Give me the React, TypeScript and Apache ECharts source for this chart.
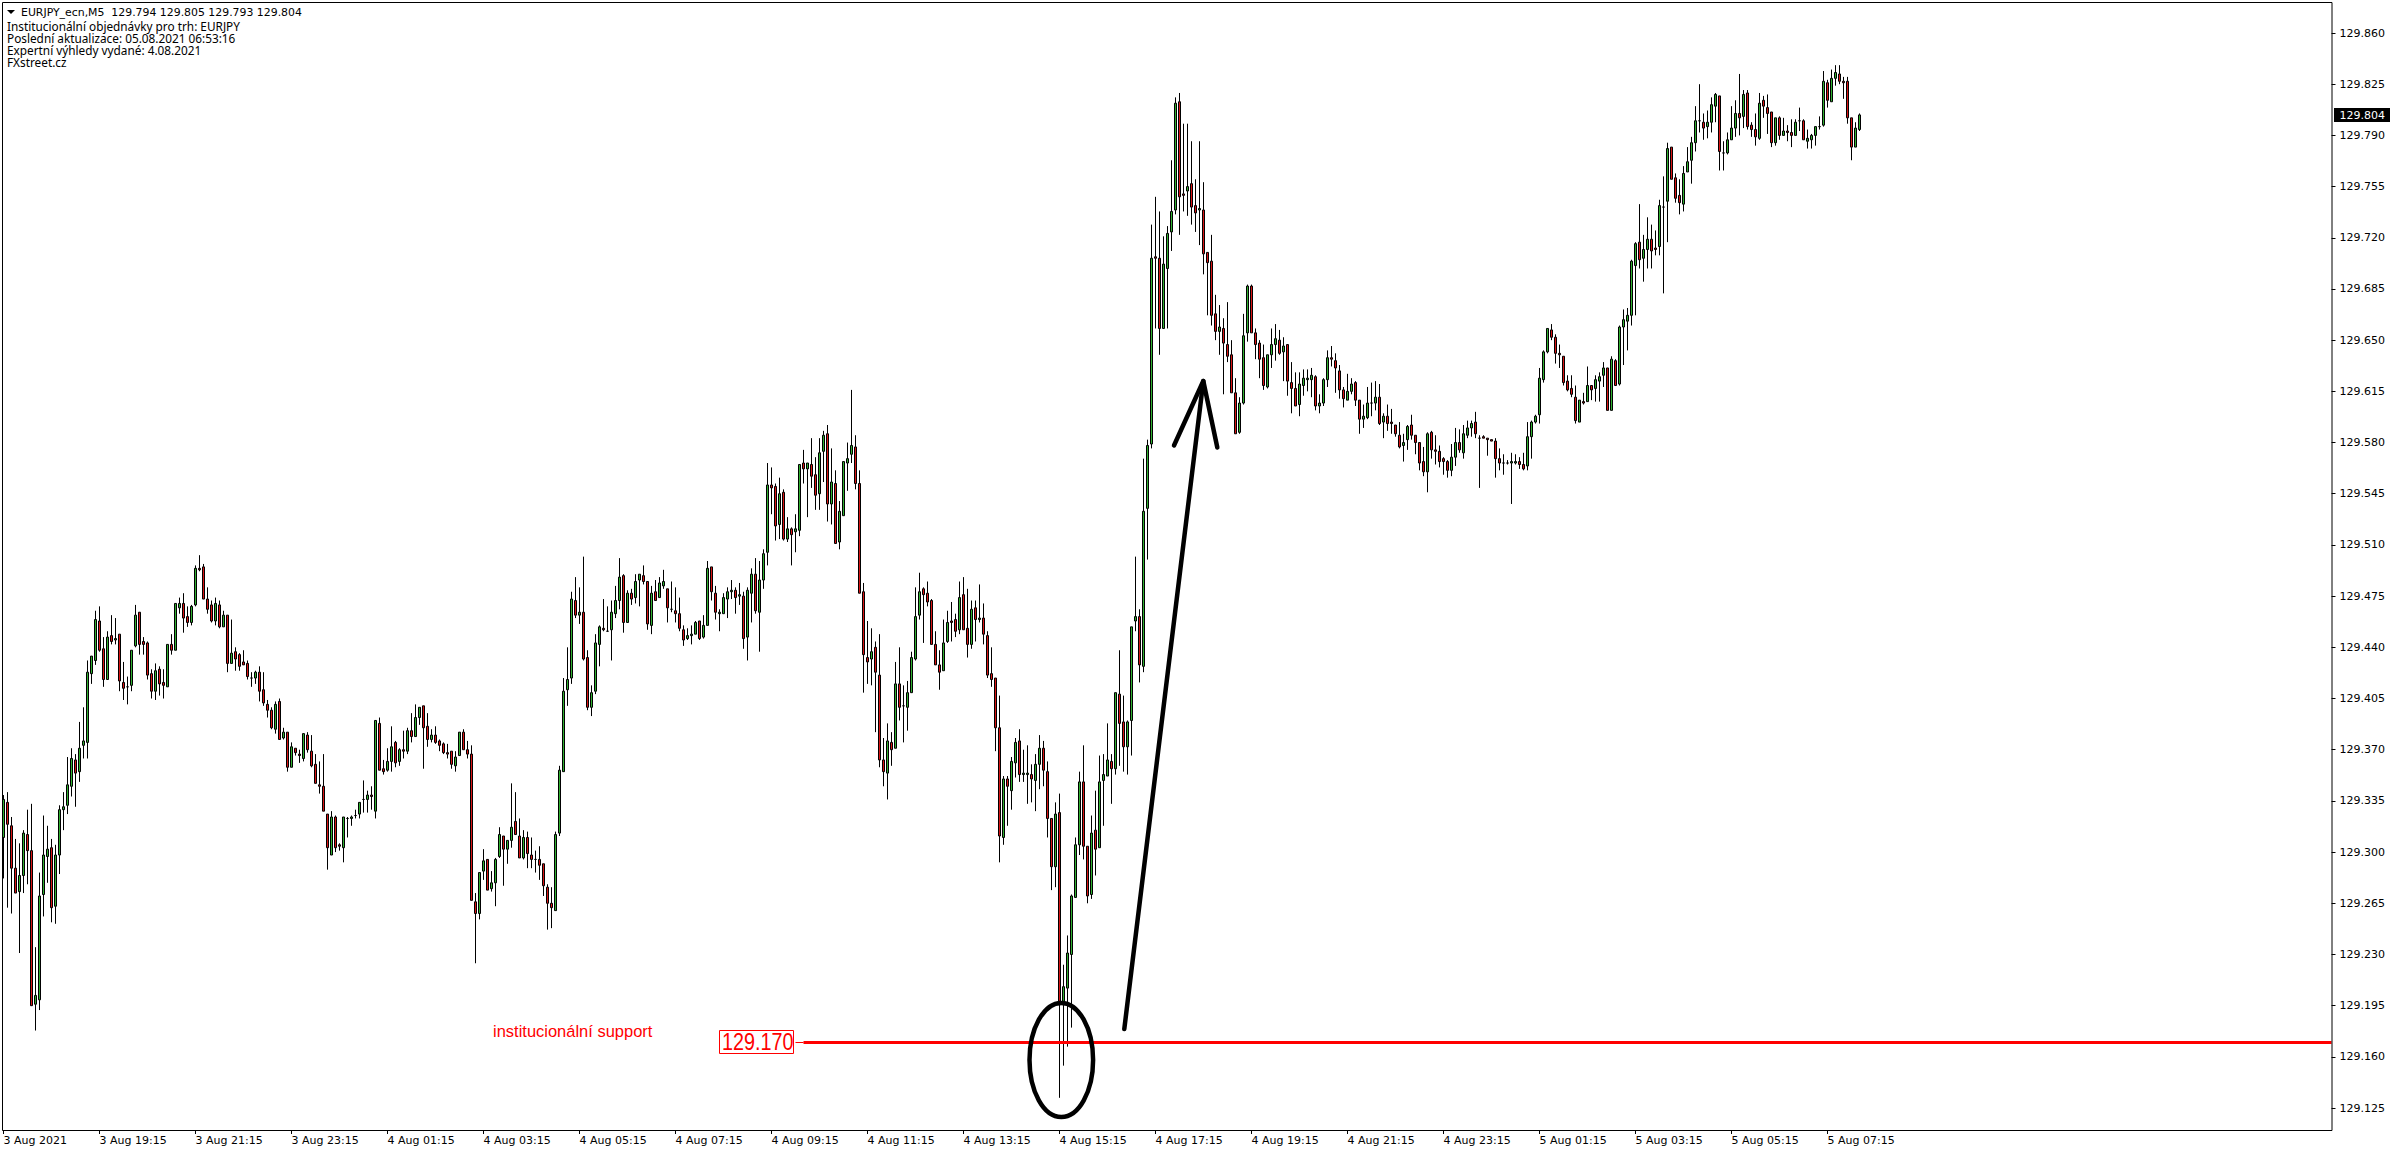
import React, { useEffect, useRef } from "react";
import * as echarts from "echarts";

// Prices are stored as thousandths of a yen above 129 (339 = 129.339).
const PRICE_BASE = 129;

const highs = [
  339,341,324,309,306,315,329,333,235,286,325,318,309,305,332,341,365,371,367,389,399,431,434,465,468,
  447,451,462,460,449,430,420,438,469,464,447,444,425,429,427,425,442,449,470,474,477,468,469,496,503,
  497,481,472,474,472,465,462,459,440,436,438,431,423,424,427,423,404,399,403,405,385,382,375,371,370,
  381,382,380,367,362,367,326,328,325,306,324,324,325,329,334,349,342,345,390,392,363,371,386,376,371,
  383,385,395,401,399,400,395,384,386,377,375,374,369,369,382,384,376,373,272,286,302,295,287,296,317,
  311,308,347,341,323,315,314,310,301,304,292,278,276,314,359,419,440,478,488,481,502,438,414,449,455,
  473,468,472,482,501,490,479,480,490,490,496,485,482,486,488,493,480,485,481,474,455,453,455,458,458,
  462,499,495,482,466,477,481,486,481,484,478,481,494,501,499,507,566,563,552,556,548,529,522,531,565,
  575,566,583,570,583,588,592,576,561,540,567,580,616,585,561,484,458,453,444,449,378,388,382,430,440,
  414,417,437,481,491,481,485,473,451,438,459,465,471,463,485,488,480,472,472,483,470,451,440,419,407,
  352,352,365,378,384,370,373,360,367,380,376,362,323,334,340,223,243,271,310,355,373,304,325,342,366,
  367,388,367,409,438,407,390,454,502,466,569,582,729,748,738,721,728,773,816,819,798,798,786,760,786,
  758,710,722,681,674,665,676,650,624,611,668,688,688,658,650,647,640,658,661,657,652,647,635,628,628,
  630,630,631,626,613,624,643,646,641,633,618,627,624,622,609,606,618,621,622,620,600,606,603,592,594,
  586,592,599,585,580,577,587,588,585,578,570,568,579,590,589,592,595,595,601,585,585,583,582,583,576,
  572,568,573,572,570,573,594,595,599,631,643,658,661,654,647,639,626,626,619,609,614,632,619,626,628,
  635,631,639,637,660,671,672,705,717,743,722,734,729,725,746,762,785,782,764,760,769,782,789,810,825,
  805,807,816,819,817,786,792,810,814,832,821,821,799,805,819,817,818,806,802,803,802,797,801,801,809,
  801,794,791,796,803,834,828,835,838,838,830,830,802,799,805,
];

const bodyTops = [
  336,334,318,289,284,313,312,301,202,270,298,302,303,298,329,331,346,364,363,371,376,423,434,459,458,
  439,447,448,446,449,416,413,438,462,464,444,443,422,424,425,416,442,442,470,470,470,461,468,494,494,
  495,473,469,470,469,462,462,436,437,435,430,429,419,423,423,411,401,397,401,403,382,382,372,371,367,
  381,380,369,360,346,345,326,324,324,305,324,323,324,325,334,336,339,339,390,388,357,362,372,375,370,
  370,383,383,392,399,400,386,380,380,376,374,368,369,365,382,382,370,367,266,286,294,295,279,295,312,
  311,308,317,321,311,310,310,298,295,295,292,276,265,312,356,410,418,473,472,464,464,433,409,443,454,
  453,451,464,472,488,489,477,477,485,490,489,485,477,478,484,485,480,466,465,463,452,448,449,457,458,
  455,494,495,477,464,474,478,479,479,476,475,479,490,490,486,504,551,551,550,545,546,521,521,521,565,
  566,566,565,558,573,585,586,553,552,533,567,569,578,577,552,478,433,437,440,421,363,376,375,415,415,
  400,409,433,461,478,480,477,472,442,428,443,457,458,459,474,476,453,466,467,460,460,448,422,419,385,
  350,350,362,375,376,354,354,353,360,371,371,355,323,326,327,208,231,270,305,348,348,304,313,315,348,
  353,363,362,409,408,389,389,454,461,461,533,578,706,707,706,702,723,738,812,813,750,755,757,742,740,
  739,710,704,668,659,658,647,640,614,607,653,687,687,655,648,638,640,647,651,650,646,647,621,617,620,
  624,624,626,625,607,623,638,638,636,629,616,615,620,621,609,598,607,607,611,611,598,598,594,592,585,
  580,591,592,585,580,567,586,587,575,574,569,567,570,580,580,586,590,593,594,583,584,583,582,581,569,
  566,566,567,567,567,565,584,594,598,624,642,658,657,652,641,639,622,617,611,609,608,619,619,623,625,
  631,631,637,636,659,664,667,704,716,717,712,719,719,713,742,741,781,782,761,749,764,772,785,800,800,
  799,799,811,818,817,778,787,795,805,805,818,819,797,794,812,814,809,806,802,802,793,793,792,799,800,
  800,788,790,796,796,827,826,829,833,832,827,827,802,795,804,
];

const bodyBottoms = [
  310,319,289,272,273,284,301,195,196,199,271,297,262,263,298,329,332,345,354,355,373,375,422,431,438,
  418,418,444,445,417,412,413,414,441,442,442,421,410,410,415,414,413,438,438,467,460,457,457,469,493,
  473,466,458,458,454,454,429,429,432,427,428,420,419,419,410,402,397,385,384,377,378,358,358,368,366,
  364,370,359,347,345,328,303,298,303,304,303,323,323,325,326,336,336,338,328,356,355,356,362,361,362,
  369,369,379,379,392,385,377,377,375,373,368,367,360,359,366,370,367,267,258,258,287,274,275,279,297,
  302,302,308,312,296,296,299,295,295,291,277,265,262,260,313,355,411,419,462,462,432,399,399,410,442,
  452,451,452,463,472,457,457,473,474,486,485,456,455,472,474,482,467,466,463,453,445,446,448,449,446,
  447,455,478,464,463,463,473,478,474,475,446,447,477,465,464,486,505,549,523,524,514,514,517,519,520,
  562,562,557,544,545,574,538,538,511,512,530,566,572,552,477,435,430,432,423,363,355,354,370,371,399,
  400,399,409,432,462,476,471,442,428,423,424,444,457,451,452,452,442,442,459,459,449,421,418,385,311,
  310,345,342,361,353,353,353,350,349,360,356,323,290,290,198,198,207,230,269,305,304,270,271,302,303,
  349,352,357,357,388,372,372,390,458,428,427,535,579,706,658,658,699,724,739,748,749,752,741,737,739,
  709,703,667,656,656,648,639,614,586,587,607,655,655,647,637,619,618,640,647,641,642,622,617,605,606,
  619,623,623,605,605,607,623,637,631,616,610,609,615,609,596,596,597,607,607,593,594,593,593,586,577,
  578,582,585,580,566,560,560,575,574,567,567,561,561,570,575,573,585,590,586,583,583,582,581,569,566,
  566,566,566,566,565,562,564,584,594,599,623,642,652,641,640,621,616,613,595,594,607,608,616,617,622,
  626,602,602,619,620,659,663,667,701,705,706,712,711,712,714,741,745,760,747,744,743,765,773,785,800,
  795,796,799,810,779,778,778,787,795,802,803,796,794,789,788,810,805,785,785,790,790,792,790,790,800,
  787,786,787,790,796,797,814,813,829,827,826,802,782,782,794,
];

const lows = [
  282,262,258,272,231,272,278,195,178,192,256,279,252,251,285,315,326,338,331,348,364,364,415,428,437,
  413,418,442,442,410,404,401,410,440,435,435,418,405,404,407,405,413,435,438,463,450,454,455,468,492,
  473,463,457,455,453,454,423,429,424,424,428,418,413,415,403,400,392,384,381,377,377,355,358,366,361,
  362,368,358,347,340,328,288,298,300,301,293,310,318,323,323,327,327,329,323,356,353,355,355,358,359,
  364,367,375,379,387,357,372,375,374,369,367,364,357,355,366,370,364,267,224,254,281,274,273,263,296,
  277,292,303,312,296,295,289,289,286,281,270,247,248,260,311,355,400,415,460,456,431,397,393,408,427,
  451,451,431,460,466,450,457,469,470,468,483,452,449,472,474,480,457,464,457,451,441,445,442,449,445,
  446,455,472,459,451,463,460,473,463,469,439,431,457,463,437,480,496,531,513,514,513,512,496,505,516,
  552,529,549,534,534,553,526,524,511,507,530,547,566,548,477,409,415,414,382,358,345,336,359,371,390,
  375,383,409,431,459,443,468,442,428,411,424,443,444,447,449,452,433,439,444,457,442,419,413,369,293,
  305,318,329,351,348,348,333,334,328,343,345,310,274,276,132,154,167,180,269,298,295,265,268,284,303,
  318,352,333,353,359,355,353,366,451,416,423,500,576,658,640,658,658,711,736,722,738,735,729,724,715,
  695,667,660,650,640,613,635,614,586,586,606,649,655,637,624,616,617,631,636,640,622,612,600,605,598,
  612,615,611,602,600,605,618,632,614,610,604,609,613,605,586,590,596,598,602,592,583,588,586,584,576,
  567,575,582,572,561,557,546,569,565,563,558,556,557,564,573,569,583,584,583,549,583,571,581,556,561,
  558,565,538,565,562,561,561,569,593,593,621,641,650,634,631,619,615,611,593,594,606,608,609,608,608,
  618,602,602,619,619,633,643,660,667,699,690,699,699,708,708,682,717,760,744,736,738,765,757,779,792,
  787,788,792,799,766,766,777,787,789,790,795,794,789,783,787,802,791,782,783,787,790,786,782,790,793,
  787,781,781,783,794,796,809,813,824,825,815,798,773,782,793,
];

// G = bull candle (close at the body top), R = bear candle (close at the body bottom).
const directions = [
  "GRRRGGRRGGGGRGGGGGRGGGGGR",
  "RGRGRRGGGRRRRGRRGRGGRRGGR",
  "RRRGRGRGRRRRGGRRRRGRGRGRR",
  "GRRRRRRGRRGGGGGGGRGRRGGRG",
  "RGRGGRRGRRRRRGGRRRRGGRGGG",
  "RGGRRGRRGRRRRGGGGGRGRRGGG",
  "RGGGGRGRGGRRGRGGRGRRRGGGR",
  "GGRRGGGGRGRGGRGGGRRGRGRGG",
  "RGRRGGRGRGGGGRRRRGRRRGRGR",
  "GGGGGRRRRRGGRRGRRGRGRRRRR",
  "GRGGRGGRGGRRRGRGGGGGRRGRG",
  "GGRGRRGGGRGGGRRGGGGRRGRRG",
  "RRRRGRRRRGGGRRRRGGGRGRRRG",
  "GGGRGGGRRRRGGRRGGGGRGRRRR",
  "GGRRRRGRRRRRGGRGGGRGRRRRR",
  "GGGGRRGGGGGGRRRRRRRGRGRGG",
  "GRGRGGGGGRGGRRGGGRRRGGGGG",
  "RGGGRGGGGRGRRRGRRRGRGRRGG",
  "RGGGGGRGGRRRRGG",
].join("");

// Tick labels of the time axis, one every 24 candles (two hours).
const timeLabels = [
  "3 Aug 2021", "3 Aug 19:15", "3 Aug 21:15", "3 Aug 23:15", "4 Aug 01:15", "4 Aug 03:15", "4 Aug 05:15",
  "4 Aug 07:15", "4 Aug 09:15", "4 Aug 11:15", "4 Aug 13:15", "4 Aug 15:15", "4 Aug 17:15", "4 Aug 19:15",
  "4 Aug 21:15", "4 Aug 23:15", "5 Aug 01:15", "5 Aug 03:15", "5 Aug 05:15", "5 Aug 07:15",
];
const priceTicks = [
  129.125, 129.16, 129.195, 129.23, 129.265, 129.3, 129.335, 129.37, 129.405, 129.44, 129.475, 129.51,
  129.545, 129.58, 129.615, 129.65, 129.685, 129.72, 129.755, 129.79, 129.825, 129.86,
];
const headerLines = [
  "Institucionální objednávky pro trh: EURJPY",
  "Poslední aktualizace: 05.08.2021 06:53:16",
  "Expertní výhledy vydané: 4.08.2021",
  "FXstreet.cz",
];
const quoteLine = "EURJPY_ecn,M5  129.794 129.805 129.793 129.804";
const lastPrice = "129.804";
const supportLevel = 129.17;
const supportLabel = "129.170";
const supportText = "institucionální support";

const SLOT_COUNT = 583; // the chart leaves empty time slots on the right

const toPrice = (v: number) => +(PRICE_BASE + v / 1000).toFixed(3);

const candleData = highs.map((h, i) => {
  const rising = directions[i] === "G";
  const open = rising ? bodyBottoms[i] : bodyTops[i];
  const close = rising ? bodyTops[i] : bodyBottoms[i];
  return [toPrice(open), toPrice(close), toPrice(lows[i]), toPrice(h)];
});

const categories = Array.from({ length: SLOT_COUNT }, (_, i) => String(i));
const tickShown = (i: number) => i % 24 === 0 && i / 24 < timeLabels.length;

const UI_FONT = '"DejaVu Sans"';
const HEAD_FONT = '"Noto Sans"';
const BLACK = "#000000";
const RED = "#ff0000";
const ink = { stroke: BLACK, lineWidth: 4.5, lineCap: "round", lineJoin: "round", fill: "none" };

function buildOption() {
  return {
    animation: false,
    backgroundColor: "#ffffff",
    grid: { left: 3.5, top: 2, width: 2328, height: 1128, containLabel: false },
    xAxis: {
      type: "category",
      data: categories,
      boundaryGap: false,
      axisLine: { show: false },
      axisTick: { show: true, length: 4, interval: (i: number) => tickShown(i), lineStyle: { color: BLACK, width: 1 } },
      axisLabel: {
        show: true,
        interval: (i: number) => tickShown(i),
        formatter: (_: string, i: number) => timeLabels[i / 24] ?? "",
        align: "left",
        margin: 5,
        color: BLACK,
        fontFamily: UI_FONT,
        fontSize: 11,
        hideOverlap: false,
      },
      splitLine: { show: false },
    },
    yAxis: {
      type: "value",
      position: "right",
      min: 129.11,
      max: 129.8812,
      scale: true,
      axisLine: { show: false },
      axisTick: { show: true, length: 4, customValues: priceTicks, lineStyle: { color: BLACK, width: 1 } },
      axisLabel: {
        show: true,
        customValues: priceTicks,
        formatter: (v: number) => v.toFixed(3),
        margin: 8,
        color: BLACK,
        fontFamily: UI_FONT,
        fontSize: 11,
        showMinLabel: true,
        showMaxLabel: true,
      },
      splitLine: { show: false },
    },
    series: [
      {
        type: "candlestick",
        data: candleData,
        clip: false,
        barWidth: 2,
        silent: true,
        itemStyle: {
          color: "#30b030",
          color0: "#d81414",
          borderColor: BLACK,
          borderColor0: BLACK,
          borderColorDoji: BLACK,
          borderWidth: 1,
        },
        markLine: {
          silent: true,
          symbol: "none",
          animation: false,
          label: { show: false },
          data: [
            [
              { coord: ["198", supportLevel], lineStyle: { color: RED, width: 1, type: "solid" } },
              { coord: ["200", supportLevel] },
            ],
            [
              { coord: ["200", supportLevel], lineStyle: { color: RED, width: 3, type: "solid" } },
              { coord: ["582", supportLevel] },
            ],
          ],
        },
      },
    ],
    graphic: [
      {
        type: "rect",
        z: 50,
        silent: true,
        shape: { x: 2.5, y: 2.5, width: 2329.5, height: 1128 },
        style: { fill: "none", stroke: BLACK, lineWidth: 1 },
      },
      // Header block
      {
        type: "polygon",
        z: 60,
        silent: true,
        shape: { points: [[7, 10], [15, 10], [11, 14]] },
        style: { fill: BLACK },
      },
      {
        type: "text",
        z: 60,
        silent: true,
        x: 21,
        y: 12.5,
        style: { text: quoteLine, fontFamily: UI_FONT, fontSize: 10.9, fill: BLACK, verticalAlign: "middle" },
      },
      ...headerLines.map((line, i) => ({
        type: "text",
        z: 60,
        silent: true,
        x: 7,
        y: [25.5, 37.5, 50, 62][i],
        style: { text: line, fontFamily: HEAD_FONT, fontSize: 11.8, fill: BLACK, verticalAlign: "middle" },
      })),
      // Last price tag
      {
        type: "rect",
        z: 60,
        silent: true,
        shape: { x: 2334, y: 108, width: 56, height: 14 },
        style: { fill: BLACK },
      },
      {
        type: "text",
        z: 61,
        silent: true,
        x: 2339.5,
        y: 115,
        style: { text: lastPrice, fontFamily: UI_FONT, fontSize: 11, fill: "#ffffff", verticalAlign: "middle" },
      },
      // Support annotation
      {
        type: "text",
        z: 60,
        silent: true,
        x: 493,
        y: 1031,
        scaleX: 0.97,
        style: { text: supportText, fontFamily: '"Liberation Sans"', fontSize: 17, fill: RED, verticalAlign: "middle" },
      },
      {
        type: "rect",
        z: 60,
        silent: true,
        shape: { x: 719.5, y: 1030.5, width: 74, height: 23 },
        style: { fill: "#ffffff", stroke: RED, lineWidth: 1 },
      },
      {
        type: "text",
        z: 61,
        silent: true,
        x: 722,
        y: 1042.5,
        scaleX: 0.86,
        style: { text: supportLabel, fontFamily: '"Liberation Sans"', fontSize: 23, fill: RED, verticalAlign: "middle" },
      },
      // Hand drawn ellipse and arrow
      {
        type: "ellipse",
        z: 70,
        silent: true,
        shape: { cx: 1061.3, cy: 1060, rx: 31.8, ry: 57 },
        style: { fill: "none", stroke: BLACK, lineWidth: 4.5 },
      },
      {
        type: "line",
        z: 70,
        silent: true,
        shape: { x1: 1124.3, y1: 1029, x2: 1203.3, y2: 381 },
        style: ink,
      },
      {
        type: "polyline",
        z: 70,
        silent: true,
        shape: { points: [[1174, 445.5], [1203.3, 381], [1217.3, 447.5]] },
        style: ink,
      },
    ],
  };
}

export default function App() {
  const ref = useRef<HTMLDivElement>(null);
  useEffect(() => {
    document.body.style.margin = "0";
    const chart = echarts.init(ref.current!, null, { renderer: "svg" });
    chart.setOption(buildOption() as any);
    return () => chart.dispose();
  }, []);
  return <div ref={ref} style={{ position: "fixed", left: 0, top: 0, width: 2396, height: 1154, background: "#fff" }} />;
}
